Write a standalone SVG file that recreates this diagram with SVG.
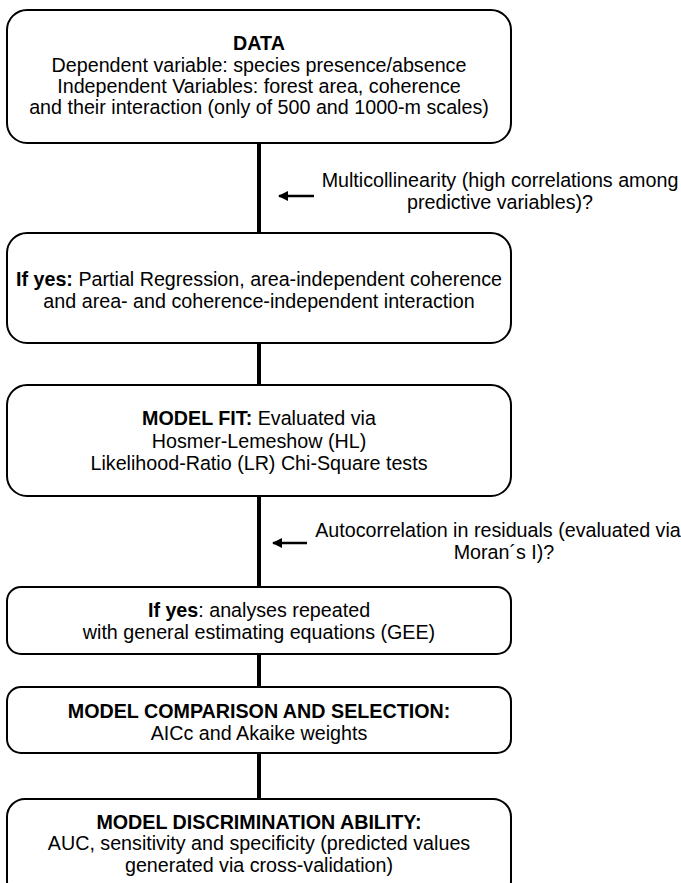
<svg xmlns="http://www.w3.org/2000/svg" width="681" height="883" viewBox="0 0 681 883">
<defs>
<style>
.box{fill:#fff;stroke:#000;stroke-width:2}
.t{font-family:"Liberation Sans",Arial,sans-serif;font-size:19.7px;fill:#000;text-anchor:middle}
.b{font-weight:bold}
.conn{stroke:#000;stroke-width:4;fill:none}
.arr{stroke:#000;stroke-width:2.5;fill:none}
</style>
<marker id="ah" viewBox="0 0 10 10" refX="9" refY="5" markerWidth="5" markerHeight="4" markerUnits="strokeWidth" orient="auto">
<path d="M0,0 L10,5 L0,10 Z" fill="#000"/>
</marker>
</defs>
<rect width="681" height="883" fill="#fff"/>
<g id="connectors">
<line class="conn" x1="259" y1="143" x2="259" y2="233"/>
<line class="conn" x1="259" y1="343" x2="259" y2="385"/>
<line class="conn" x1="259" y1="496" x2="259" y2="587"/>
<line class="conn" x1="259" y1="654" x2="259" y2="687"/>
<line class="conn" x1="259" y1="753" x2="259" y2="799"/>
<line class="arr" x1="314" y1="196" x2="279" y2="196" marker-end="url(#ah)"/>
<line class="arr" x1="307" y1="543" x2="273" y2="543" marker-end="url(#ah)"/>
</g>
<g id="label1">
<text class="t" x="500" y="187">Multicollinearity (high correlations among</text>
<text class="t" x="500" y="209">predictive variables)?</text>
</g>
<g id="label2">
<text class="t" x="498" y="537">Autocorrelation in residuals (evaluated via</text>
<text class="t" x="504" y="559">Moran´s I)?</text>
</g>
<g id="data">
<rect class="box" x="7" y="10" width="504" height="133" rx="20"/>
<text class="t b" x="259" y="50">DATA</text>
<text class="t" x="259" y="72">Dependent variable: species presence/absence</text>
<text class="t" x="259" y="93">Independent Variables: forest area, coherence</text>
<text class="t" x="259" y="114">and their interaction (only of 500 and 1000-m scales)</text>
</g>
<g id="partial">
<rect class="box" x="7" y="233" width="504" height="110" rx="20"/>
<text class="t" x="259" y="286"><tspan class="b">If yes:</tspan> Partial Regression, area-independent coherence</text>
<text class="t" x="259" y="308">and area- and coherence-independent interaction</text>
</g>
<g id="modelfit">
<rect class="box" x="7" y="385" width="504" height="111" rx="20"/>
<text class="t" x="259" y="425"><tspan class="b">MODEL FIT:</tspan> Evaluated via</text>
<text class="t" x="259" y="448">Hosmer-Lemeshow (HL)</text>
<text class="t" x="259" y="470">Likelihood-Ratio (LR) Chi-Square tests</text>
</g>
<g id="gee">
<rect class="box" x="7" y="587" width="504" height="67" rx="14"/>
<text class="t" x="259" y="617"><tspan class="b">If yes</tspan>: analyses repeated</text>
<text class="t" x="259" y="639">with general estimating equations (GEE)</text>
</g>
<g id="comparison">
<rect class="box" x="7" y="687" width="504" height="66" rx="14"/>
<text class="t b" x="259" y="718">MODEL COMPARISON AND SELECTION:</text>
<text class="t" x="259" y="740">AICc and Akaike weights</text>
</g>
<g id="discrimination">
<rect class="box" x="7" y="799" width="504" height="100" rx="18"/>
<text class="t b" x="259" y="829">MODEL DISCRIMINATION ABILITY:</text>
<text class="t" x="259" y="850">AUC, sensitivity and specificity (predicted values</text>
<text class="t" x="259" y="872">generated via cross-validation)</text>
</g>
</svg>
